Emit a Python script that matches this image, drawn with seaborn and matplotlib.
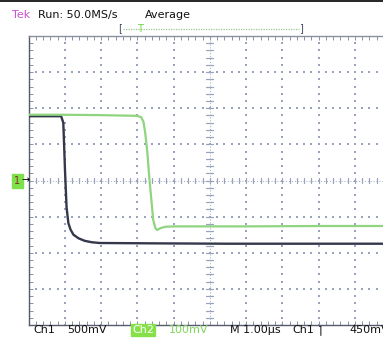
import numpy as np
import pandas as pd
import matplotlib
matplotlib.use("Agg")
import matplotlib.pyplot as plt
from matplotlib.lines import Line2D
import seaborn as sns

# Ch1 trace: time in µs (0 = screen centre), amplitude in volts
ch1_time = [-5.0, -4.10, -4.04, -3.99, -3.95, -3.90, -3.84, -3.76, -3.62, -3.45, -3.25, -3.03,
            -1.5, 0.5, 2.5, 4.8]
ch1_volts = [0.89, 0.89, 0.80, 0.10, -0.37, -0.59, -0.68, -0.75, -0.80, -0.835, -0.855, -0.865,
             -0.87, -0.875, -0.875, -0.875]

# Ch2 trace: time in µs, amplitude in millivolts
ch2_time = [-5.0, -4.13, -3.03, -2.0, -1.89, -1.83, -1.78, -1.72, -1.67, -1.61, -1.56,
            -1.50, -1.45, -1.36, -1.23, -0.96, 1.0, 3.0, 4.8]
ch2_mv = [182, 182, 181, 179, 175, 163, 132, 76, 10, -54, -109,
          -132, -137, -132, -128, -127, -127, -126, -126]

ch1_scale = 0.5   # V per division
ch2_scale = 100   # mV per division

status_text = "Run: 50.0MS/s"
acq_text = "Average"
readout = ["Ch1", "500mV", "Ch2", "100mV", "M 1.00µs", "Ch1", "\u2309", "450mV"]

W, H = 383, 339
sns.set_style("white")
plt.rcParams["font.family"] = ["DejaVu Sans"]

fig = plt.figure(figsize=(W / 100, H / 100), dpi=100)
fig.patch.set_facecolor("white")

def fx(x):
    return x / W

def fy(y):
    return 1 - y / H

# graticule area: 10 x 8 divisions, right edge runs off the screen
left, right, top, bottom = 28.5, 391.0, 36.0, 325.0
ax = fig.add_axes([fx(left), fy(bottom), (right - left) / W, (bottom - top) / H])
ax.set_xlim(-5, 5)
ax.set_ylim(-4, 4)
ax.set_facecolor("white")

GRID = "#9aa3bd"
TICK = "#8890a6"
FRAME = "#555b6a"

# dotted graticule lines
minor = np.round(np.arange(-5, 5.001, 0.2), 3)
minor_y = np.round(np.arange(-4, 4.001, 0.2), 3)
for k in range(-4, 5):
    if k == 0:
        continue
    ax.scatter(np.full_like(minor_y, k), minor_y, s=1.2, marker="s", color=GRID,
               linewidths=0, zorder=1)
for k in range(-3, 4):
    if k == 0:
        continue
    ax.scatter(minor, np.full_like(minor, k), s=1.2, marker="s", color=GRID,
               linewidths=0, zorder=1)

# centre crosshair with 0.2-division tick marks
ax.axhline(0, color=GRID, lw=0.7, ls=(0, (1, 2)), zorder=1)
ax.axvline(0, color=GRID, lw=0.7, ls=(0, (1, 2)), zorder=1)
for v in minor:
    ax.plot([v, v], [-0.08, 0.08], color=GRID, lw=0.9, zorder=1)
for v in minor_y:
    ax.plot([-0.1, 0.1], [v, v], color=GRID, lw=0.9, zorder=1)

# frame ticks
ax.set_xticks(np.arange(-5, 6, 1))
ax.set_yticks(np.arange(-4, 5, 1))
ax.set_xticks(minor, minor=True)
ax.set_yticks(minor_y, minor=True)
for which in ("major", "minor"):
    ax.tick_params(axis="both", which=which, direction="in", length=3.2, width=0.7,
                   color=TICK, top=True, bottom=True, left=True, right=True,
                   labelbottom=False, labelleft=False)
for sp in ax.spines.values():
    sp.set_color(FRAME)
    sp.set_linewidth(1.0)
ax.spines["top"].set_color("#8a90a0")

# traces, scaled to screen divisions
df1 = pd.DataFrame({"t": ch1_time, "div": np.array(ch1_volts) / ch1_scale})
df2 = pd.DataFrame({"t": ch2_time, "div": np.array(ch2_mv) / ch2_scale})
sns.lineplot(data=df1, x="t", y="div", ax=ax, color="#34384a", lw=1.7, zorder=4,
             estimator=None, sort=False)
sns.lineplot(data=df2, x="t", y="div", ax=ax, color="#8fd47e", lw=1.6, zorder=5,
             estimator=None, sort=False)
ax.set_xlabel("")
ax.set_ylabel("")

TXT = "#111111"

# top status line
fig.add_artist(Line2D([0, 1], [fy(1.2), fy(1.2)], color="black", lw=1.2))
fig.text(fx(12), fy(15), "Tek", color="#c84fd0", fontsize=8, va="center", ha="left")
fig.text(fx(38), fy(15), status_text, color=TXT, fontsize=8, va="center", ha="left")
fig.text(fx(145), fy(15), acq_text, color=TXT, fontsize=8, va="center", ha="left")

# record-position bar with trigger marker
fig.add_artist(Line2D([fx(123), fx(299)], [fy(28.8), fy(28.8)], color="#9cc890",
                      lw=0.9, ls=(0, (1, 1))))
fig.text(fx(120), fy(28.5), "[", color="#404860", fontsize=7, va="center", ha="center")
fig.text(fx(300.5), fy(28.5), "]", color="#404860", fontsize=7, va="center", ha="center")
fig.text(fx(140), fy(28.5), "T", color="#6cd04c", fontsize=7, va="center", ha="center")

# Ch1 ground marker
fig.text(fx(17.5), fy(181), "1", color="#8a2a2a", fontsize=7, va="center", ha="center",
         bbox=dict(boxstyle="square,pad=0.25", fc="#7ee04a", ec="#7ee04a"))
fig.text(fx(25.5), fy(180.5), "\u2192", color="black", fontsize=7, va="center", ha="center")

# bottom readout
by = fy(330)
fig.text(fx(33), by, readout[0], color=TXT, fontsize=8, va="center", ha="left")
fig.text(fx(67), by, readout[1], color=TXT, fontsize=8, va="center", ha="left")
fig.text(fx(132), by, readout[2], color="white", fontsize=8, va="center", ha="left",
         bbox=dict(boxstyle="square,pad=0.12", fc="#86e04a", ec="#86e04a"))
fig.text(fx(169), by, readout[3], color="#7ed65a", fontsize=8, va="center", ha="left")
fig.text(fx(230), by, readout[4], color=TXT, fontsize=8, va="center", ha="left")
fig.text(fx(292), by, readout[5], color=TXT, fontsize=8, va="center", ha="left")
fig.text(fx(318), by, readout[6], color=TXT, fontsize=8, va="center", ha="left")
fig.text(fx(349), by, readout[7], color=TXT, fontsize=8, va="center", ha="left")

fig.savefig("out.png", dpi=100)
